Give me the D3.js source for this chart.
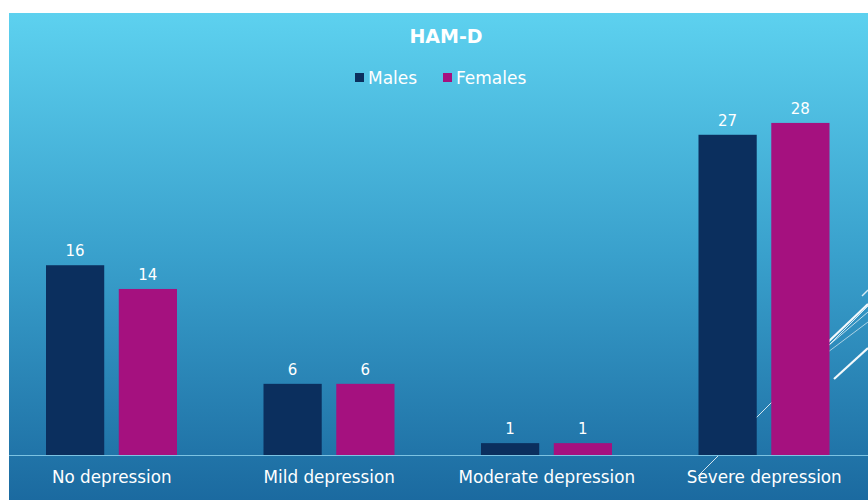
<!DOCTYPE html>
<html><head><meta charset="utf-8">
<script src="https://cdn.jsdelivr.net/npm/d3@7"></script>
<style>html,body{margin:0;padding:0;background:#fff;overflow:hidden}</style>
</head><body>
<svg id="chart" width="868" height="500"></svg>
<script>
const title = "HAM-D";
const categories = ["No depression", "Mild depression", "Moderate depression", "Severe depression"];
const seriesNames = ["Males", "Females"];
const males = [16, 6, 1, 27];
const females = [14, 6, 1, 28];
const colors = ["#0b2f5e", "#a5117f"];

const svg = d3.select("#chart");
const W = 868, H = 500;
const font = "'DejaVu Sans', sans-serif";

const defs = svg.append("defs");
const grad = defs.append("linearGradient").attr("id", "bg").attr("x1", 0).attr("y1", 0).attr("x2", 0).attr("y2", 1);
grad.append("stop").attr("offset", "0%").attr("stop-color", "#5dd1ef");
grad.append("stop").attr("offset", "50%").attr("stop-color", "#39a0cc");
grad.append("stop").attr("offset", "100%").attr("stop-color", "#1b6aa0");

svg.append("rect").attr("x", 9).attr("y", 13).attr("width", W - 9).attr("height", H - 13).attr("fill", "url(#bg)");

// decorative lines (behind bars)
const deco = [
  [698, 476, 868, 306, 1, 0.8],
  [828, 342, 868, 304, 2.2, 0.95],
  [828, 346, 868, 312, 1, 0.7],
  [828, 352, 868, 322, 1, 0.6],
  [834, 379, 868, 348, 2.2, 0.95],
  [862, 296, 868, 290, 1.5, 0.8]
];
svg.append("g").selectAll("line").data(deco).join("line")
  .attr("x1", d => d[0]).attr("y1", d => d[1]).attr("x2", d => d[2]).attr("y2", d => d[3])
  .attr("stroke", "#ffffff").attr("stroke-width", d => d[4]).attr("stroke-opacity", d => d[5]);

const x0 = d3.scaleBand().domain(categories).range([3, 873]).paddingInner(0).paddingOuter(0);
const x1 = d3.scaleBand().domain(seriesNames).range([43, 174]).paddingInner(0.2).paddingOuter(0);
const y = d3.scaleLinear().domain([0, 30]).range([455, 99.2]);

const data = categories.map((c, i) => ({cat: c, vals: [males[i], females[i]]}));

const groups = svg.append("g").selectAll("g").data(data).join("g")
  .attr("transform", d => `translate(${x0(d.cat)},0)`);

groups.selectAll("rect").data(d => d.vals.map((v, j) => ({v, j}))).join("rect")
  .attr("x", d => x1(seriesNames[d.j]))
  .attr("y", d => y(d.v))
  .attr("width", x1.bandwidth())
  .attr("height", d => y(0) - y(d.v))
  .attr("fill", d => colors[d.j]);

groups.selectAll("text").data(d => d.vals.map((v, j) => ({v, j}))).join("text")
  .attr("x", d => x1(seriesNames[d.j]) + x1.bandwidth() / 2)
  .attr("y", d => y(d.v) - 9)
  .attr("text-anchor", "middle")
  .attr("fill", "#ffffff")
  .attr("font-family", font)
  .attr("font-size", 15)
  .text(d => d.v);

// axis
const xAxis = d3.axisBottom(x0).tickSize(0).tickPadding(16);
const ax = svg.append("g").attr("transform", `translate(0,${y(0)})`).call(xAxis);
ax.select(".domain").remove();
svg.append("line").attr("x1", 9).attr("x2", W).attr("y1", y(0) + 0.5).attr("y2", y(0) + 0.5)
  .attr("stroke", "#7cc3e2").attr("stroke-width", 1.2);
ax.selectAll("text").attr("fill", "#ffffff").attr("font-family", font).attr("font-size", 16.8);

// title
svg.append("text").attr("x", 446).attr("y", 43).attr("text-anchor", "middle")
  .attr("fill", "#ffffff").attr("font-family", font).attr("font-weight", "bold").attr("font-size", 19)
  .text(title);

// legend
const legX = [355, 443];
const leg = svg.append("g").selectAll("g").data(seriesNames).join("g")
  .attr("transform", (d, i) => `translate(${legX[i]},78)`);
leg.append("rect").attr("x", 0).attr("y", -5).attr("width", 9).attr("height", 9).attr("fill", (d, i) => colors[i]);
leg.append("text").attr("x", 13).attr("y", 6).attr("fill", "#ffffff").attr("font-family", font).attr("font-size", 17).text(d => d);
</script>
</body></html>
